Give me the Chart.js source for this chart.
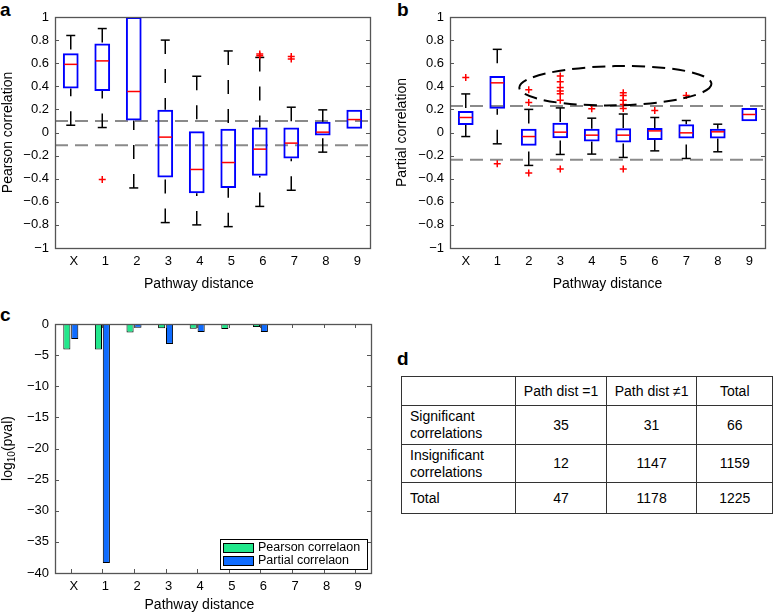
<!DOCTYPE html>
<html>
<head>
<meta charset="utf-8">
<script src="https://cdn.jsdelivr.net/npm/chart.js@4.4.1/dist/chart.umd.min.js"></script>
<style>
    body { margin: 0; background: #fff; font-family: "Liberation Sans", Arial, sans-serif; }
    #page { position: relative; width: 773px; height: 614px; overflow: hidden; }
    canvas, .panel-label, #table-d { position: absolute; }
    .panel-label { font-weight: bold; font-size: 19px; line-height: 19px; }
    #table-d { left: 401px; top: 376px; border-collapse: collapse; font-size: 14px; color: #000; }
    #table-d td { border: 1px solid #333; text-align: center; padding: 0; white-space: pre-line; line-height: 17px; }
    #table-d td.first { text-align: left; padding-left: 8px; }
</style>
</head>
<body>
<div id="page">
    <div class="panel-label" style="left:0;top:0">a</div>
    <div class="panel-label" style="left:397px;top:0">b</div>
    <div class="panel-label" style="left:0;top:305px">c</div>
    <div class="panel-label" style="left:397px;top:349px">d</div>
    <canvas id="chart-a" width="380" height="300" style="left:0;top:0"></canvas>
    <canvas id="chart-b" width="383" height="300" style="left:390px;top:0"></canvas>
    <canvas id="chart-c" width="390" height="314" style="left:0;top:300px"></canvas>
    <table id="table-d"></table>
</div>
<script>
const distances = ['X', '1', '2', '3', '4', '5', '6', '7', '8', '9'];

// a: Pearson correlation per pathway distance (box plot stats)
const pearsonLow = [0.063, 0.043, -0.48, -0.78, -0.80, -0.815, -0.64, -0.50, -0.17, null];
const pearsonQ1 = [0.38, 0.36, 0.104, -0.39, -0.525, -0.48, -0.375, -0.225, -0.026, 0.032];
const pearsonMedian = [0.59, 0.62, 0.355, -0.04, -0.32, -0.26, -0.144, -0.092, 0.003, 0.112];
const pearsonQ3 = [0.686, 0.77, 1.0, 0.196, 0.01, 0.032, 0.043, 0.043, 0.092, 0.196];
const pearsonHigh = [0.84, 0.90, null, 0.80, 0.487, 0.706, 0.65, 0.219, 0.196, null];
const pearsonOutliers = [[], [-0.406], [], [], [], [], [0.68, 0.665], [0.657, 0.637], [], []];
const pearsonCutoff = [0.1, -0.11];

// b: partial correlation per pathway distance
const partialLow = [-0.035, -0.098, -0.285, -0.19, -0.187, -0.216, -0.159, -0.225, -0.167, null];
const partialQ1 = [0.066, 0.205, -0.115, -0.05, -0.078, -0.087, -0.066, -0.052, -0.052, 0.098];
const partialMedian = [0.13, 0.43, -0.035, 0.003, -0.023, -0.023, 0.014, -0.003, 0.006, 0.156];
const partialQ3 = [0.187, 0.49, 0.032, 0.084, 0.032, 0.037, 0.04, 0.072, 0.032, 0.213];
const partialHigh = [0.334, 0.72, 0.2, 0.213, 0.124, 0.16, 0.13, 0.104, 0.072, null];
const partialOutliers = [[0.476], [-0.27], [0.37, 0.26, -0.35], [0.49, 0.44, 0.39, 0.36, 0.335, 0.28, -0.317],
    [0.205], [0.344, 0.32, 0.28, 0.243, 0.208, -0.317], [0.19], [0.32], [], []];
const partialCutoff = [0.23, -0.235];
// dashed ellipse round the outliers (category index, value)
const ellipseCenter = [4.75, 0.405];
const ellipseRadius = [3.05, 0.17];

// c: log10 p-values
const pearsonLogP = [-4.1, -4.1, -1.35, -0.7, -0.75, -0.8, -0.5, 0, 0, 0];
const partialLogP = [-2.4, -38.4, -0.6, -3.2, -1.3, -0.15, -1.3, 0, 0, 0];
const barLabels = ['Pearson correlaon', 'Partial correlaon'];

// d: table
const tableHeader = ['', 'Path dist =1', 'Path dist \u22601', 'Total'];
const tableRows = [
    ['Significant\ncorrelations', 35, 31, 66],
    ['Insignificant\ncorrelations', 12, 1147, 1159],
    ['Total', 47, 1178, 1225]
];

Chart.defaults.font.family = '"Liberation Sans", Arial, sans-serif';
Chart.defaults.color = '#000';

function tickText(v) {
    return String(Number(v.toFixed(1))).replace('-', '\u2212');
}

function line(ctx, x1, y1, x2, y2) {
    ctx.beginPath();
    ctx.moveTo(x1, y1);
    ctx.lineTo(x2, y2);
    ctx.stroke();
}

// frame round the plot and inward tick marks
function framePlugin(xTicks) {
    return {
        id: 'frame',
        afterDraw(chart) {
            const {ctx, chartArea: a} = chart;
            const y = chart.scales.y, x = chart.scales.x;
            ctx.save();
            ctx.strokeStyle = '#555';
            ctx.lineWidth = 1;
            ctx.setLineDash([]);
            y.ticks.forEach(t => {
                const py = Math.round(y.getPixelForValue(t.value)) + 0.5;
                line(ctx, a.left, py, a.left + 4, py);
                line(ctx, a.right - 4, py, a.right, py);
            });
            if (xTicks) {
                x.ticks.forEach((t, i) => {
                    const px = Math.round(x.getPixelForValue(i)) + 0.5;
                    line(ctx, px, a.top, px, a.top + 4);
                    line(ctx, px, a.bottom - 4, px, a.bottom);
                });
            }
            ctx.lineWidth = 1.3;
            ctx.strokeRect(a.left + 0.5, a.top + 0.5, a.right - a.left, a.bottom - a.top);
            ctx.restore();
        }
    };
}

function whiskerPlugin(low, q3, q1, high, cutoff, ellipse) {
    return {
        id: 'whiskers',
        beforeDatasetsDraw(chart) {
            const {ctx, chartArea: a} = chart;
            const x = chart.scales.x, y = chart.scales.y;
            ctx.save();
            ctx.strokeStyle = '#8a8a8a';
            ctx.lineWidth = 2;
            ctx.setLineDash([13, 7]);
            cutoff.forEach(v => {
                const py = y.getPixelForValue(v);
                line(ctx, a.left, py, a.right, py);
            });
            ctx.strokeStyle = '#000';
            ctx.lineWidth = 1.5;
            distances.forEach((d, i) => {
                const px = x.getPixelForValue(i);
                [[high[i], q3[i]], [low[i], q1[i]]].forEach(([end, edge]) => {
                    if (end === null) return;
                    ctx.setLineDash([14, 15]);
                    line(ctx, px, y.getPixelForValue(end), px, y.getPixelForValue(edge));
                    ctx.setLineDash([]);
                    const py = y.getPixelForValue(end);
                    line(ctx, px - 4.5, py, px + 4.5, py);
                });
            });
            ctx.restore();
        },
        afterDatasetsDraw(chart) {
            if (!ellipse) return;
            const {ctx} = chart;
            const x = chart.scales.x, y = chart.scales.y;
            const cx = x.getPixelForValue(ellipse[0][0]);
            const cy = y.getPixelForValue(ellipse[0][1]);
            const rx = x.getPixelForValue(ellipse[0][0] + ellipse[1][0]) - cx;
            const ry = cy - y.getPixelForValue(ellipse[0][1] + ellipse[1][1]);
            ctx.save();
            ctx.strokeStyle = '#000';
            ctx.lineWidth = 2;
            ctx.setLineDash([13, 7]);
            ctx.beginPath();
            ctx.ellipse(cx, cy, rx, ry, -0.02, 0, Math.PI * 2);
            ctx.stroke();
            ctx.restore();
        }
    };
}

function scaleOptions(cfg) {
    // trailing spaces nudge the centred axis title left, as in the original figure
    const xTitle = 'Pathway distance' + ' '.repeat(cfg.titleShift || 0);
    return {
        x: {
            type: 'category',
            offset: true,
            grid: {display: false, drawTicks: false},
            border: {display: false},
            ticks: {padding: 6, font: {size: 13}, maxRotation: 0, autoSkip: false, labelOffset: cfg.labelOffset || 0},
            title: {display: true, text: xTitle, font: {size: 14}, padding: {top: 0, bottom: cfg.xTitlePad}},
            afterFit: s => { s.height = cfg.xHeight; }
        },
        y: {
            min: cfg.min,
            max: cfg.max,
            grid: {display: false, drawTicks: false},
            border: {display: false},
            ticks: {stepSize: cfg.step, padding: 6, font: {size: 13}, callback: v => tickText(v)},
            title: {display: !!cfg.yTitle, text: cfg.yTitle, font: {size: 14}, padding: {top: cfg.yTitlePad, bottom: 0}},
            afterFit: s => { s.width = cfg.yWidth; }
        }
    };
}

function boxChart(id, yTitle, low, q1, median, q3, high, outliers, cutoff, ellipse, layout) {
    const outlierPoints = [];
    outliers.forEach((list, i) => list.forEach(v => outlierPoints.push({x: distances[i], y: v})));
    return new Chart(document.getElementById(id), {
        type: 'bar',
        data: {
            labels: distances,
            datasets: [
                {
                    type: 'line', data: outlierPoints, showLine: false, pointStyle: 'cross',
                    pointRadius: 3.5, pointBorderColor: '#ff0000', borderColor: '#ff0000', pointBorderWidth: 1.5, order: 0
                },
                {
                    type: 'line', data: median, showLine: false, pointStyle: 'line',
                    pointRadius: 6.5, pointBorderColor: '#ff0000', borderColor: '#ff0000', pointBorderWidth: 1.5, order: 1
                },
                {
                    data: q1.map((v, i) => [v, q3[i]]),
                    backgroundColor: 'rgba(0,0,0,0)', borderColor: '#0000ff', borderWidth: 2,
                    borderSkipped: false, barPercentage: 0.5, categoryPercentage: 1, order: 2
                }
            ]
        },
        options: {
            responsive: false,
            animation: false,
            events: [],
            layout: {padding: layout.padding},
            plugins: {legend: {display: false}, tooltip: {enabled: false}},
            scales: scaleOptions(Object.assign({min: -1, max: 1, step: 0.2, yTitle: yTitle}, layout))
        },
        plugins: [whiskerPlugin(low, q3, q1, high, cutoff, ellipse), framePlugin(false)]
    });
}

boxChart('chart-a', 'Pearson correlation', pearsonLow, pearsonQ1, pearsonMedian, pearsonQ3, pearsonHigh,
    pearsonOutliers, pearsonCutoff, null,
    {padding: {top: 17, right: 10, left: 0, bottom: 0}, yWidth: 55, xHeight: 52, xTitlePad: 7, yTitlePad: 0,
        labelOffset: 3, titleShift: 7});

boxChart('chart-b', 'Partial correlation', partialLow, partialQ1, partialMedian, partialQ3, partialHigh,
    partialOutliers, partialCutoff, [ellipseCenter, ellipseRadius],
    {padding: {top: 17, right: 8, left: 0, bottom: 0}, yWidth: 60, xHeight: 52, xTitlePad: 7, yTitlePad: 4});

// c: y title with subscript and legend box inside the plot
const pvalPlugin = {
    id: 'pvalExtras',
    afterDraw(chart) {
        const {ctx, chartArea: a} = chart;
        ctx.save();
        ctx.fillStyle = '#000';
        ctx.textBaseline = 'middle';
        ctx.translate(8.4, (a.top + a.bottom) / 2);
        ctx.rotate(-Math.PI / 2);
        const big = '14px "Liberation Sans", Arial, sans-serif';
        const small = '10px "Liberation Sans", Arial, sans-serif';
        ctx.font = big;
        const w1 = ctx.measureText('log').width, w3 = ctx.measureText('(pval)').width;
        ctx.font = small;
        const w2 = ctx.measureText('10').width;
        let px = -(w1 + w2 + w3) / 2;
        ctx.font = big;
        ctx.fillText('log', px, 0);
        px += w1;
        ctx.font = small;
        ctx.fillText('10', px, 4);
        px += w2;
        ctx.font = big;
        ctx.fillText('(pval)', px, 0);
        ctx.restore();

        // legend
        const boxW = 147, boxH = 30;
        const left = a.right - 4 - boxW, top = a.bottom - 4 - boxH;
        ctx.save();
        ctx.fillStyle = '#fff';
        ctx.fillRect(left, top, boxW, boxH);
        ctx.strokeStyle = '#000';
        ctx.lineWidth = 1;
        ctx.strokeRect(left + 0.5, top + 0.5, boxW, boxH);
        ctx.font = '12.5px "Liberation Sans", Arial, sans-serif';
        ctx.textBaseline = 'middle';
        chart.data.datasets.forEach((ds, i) => {
            const sy = top + 4 + i * 13;
            ctx.fillStyle = ds.backgroundColor;
            ctx.fillRect(left + 3, sy, 30, 9);
            ctx.strokeRect(left + 3.5, sy + 0.5, 30, 9);
            ctx.fillStyle = '#000';
            ctx.fillText(ds.label, left + 38, sy + 5);
        });
        ctx.restore();
    }
};

new Chart(document.getElementById('chart-c'), {
    type: 'bar',
    data: {
        labels: distances,
        datasets: [
            {label: barLabels[0], data: pearsonLogP, backgroundColor: '#22e88c', borderColor: '#000', borderWidth: 1,
                categoryPercentage: 0.5, barPercentage: 0.9},
            {label: barLabels[1], data: partialLogP, backgroundColor: '#0f6cff', borderColor: '#000', borderWidth: 1,
                categoryPercentage: 0.5, barPercentage: 0.9}
        ]
    },
    options: {
        responsive: false,
        animation: false,
        events: [],
        layout: {padding: {top: 24, right: 19, left: 0, bottom: 0}},
        plugins: {legend: {display: false}, tooltip: {enabled: false}},
        scales: scaleOptions({min: -40, max: 0, step: 5, yTitle: null, yWidth: 55, xHeight: 41, xTitlePad: 0,
            yTitlePad: 0, labelOffset: 3, titleShift: 7})
    },
    plugins: [framePlugin(true), pvalPlugin]
});

// d: table
const table = document.getElementById('table-d');
const colWidths = [107, 93, 93, 77];
const rowHeights = [29, 39, 38, 31];
[tableHeader].concat(tableRows).forEach((row, r) => {
    const tr = document.createElement('tr');
    tr.style.height = rowHeights[r] + 'px';
    row.forEach((cell, c) => {
        const td = document.createElement('td');
        td.textContent = cell;
        td.style.width = colWidths[c] + 'px';
        if (c === 0) td.className = 'first';
        tr.appendChild(td);
    });
    table.appendChild(tr);
});
</script>
</body>
</html>
